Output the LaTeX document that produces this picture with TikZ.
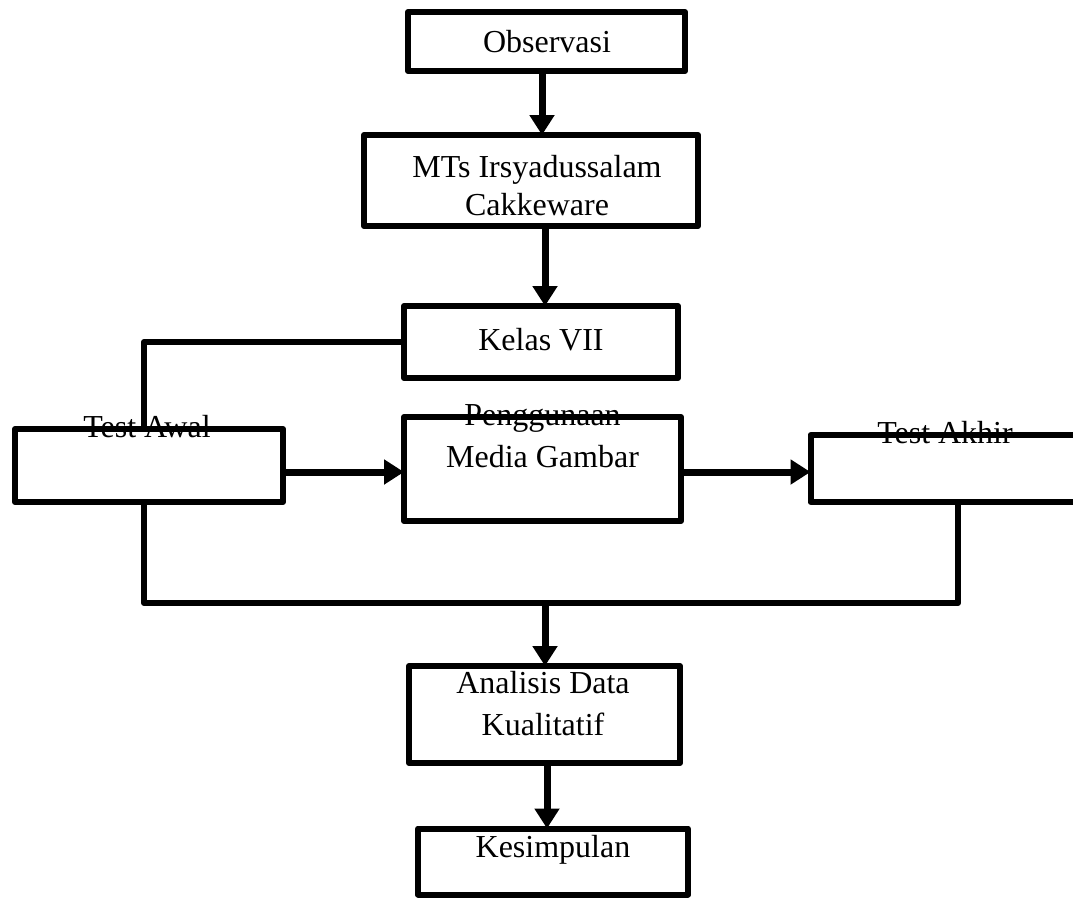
\documentclass[tikz,border=0pt]{standalone}
\usepackage{fontspec}
\setmainfont{Liberation Serif}
\usetikzlibrary{arrows.meta}
\begin{document}
\begin{tikzpicture}[x=1pt,y=-1pt,
  box/.style={draw, line width=6pt, line join=round, rectangle, inner sep=0pt, outer sep=0pt},
  lbl/.style={anchor=base, inner sep=0pt, font=\fontsize{32}{40}\selectfont},
  arr/.style={line width=7pt, -{Triangle[length=20pt,width=24pt]}},
  ln/.style={line width=6pt, line join=round}]
\useasboundingbox (0,0) rectangle (1073,902);
\clip (0,0) rectangle (1073,902);
% boxes
\node[box, minimum width=277pt, minimum height=59pt] (obs) at (546.5,41.5) {};
\node[box, minimum width=334pt, minimum height=91pt] (mts) at (531,180.5) {};
\node[box, minimum width=274pt, minimum height=72pt] (kelas) at (541,342) {};
\node[box, minimum width=268pt, minimum height=73pt] (awal) at (149,465.5) {};
\node[box, minimum width=277pt, minimum height=104pt] (peng) at (542.5,469) {};
\node[box, minimum width=287pt, minimum height=67pt] (akhir) at (954,468.5) {};
\node[box, minimum width=271pt, minimum height=97pt] (anal) at (544.5,714.5) {};
\node[box, minimum width=270pt, minimum height=66pt] (kes) at (553,861.5) {};
% labels
\node[lbl] (tobs) at (547,52) {Observasi};
\node[lbl] (tmts1) at (537,177) {MTs Irsyadussalam};
\node[lbl] (tmts2) at (537,215) {Cakkeware};
\node[lbl] (tkel) at (541,350) {Kelas VII};
\node[lbl] (tawal) at (147,437) {Test Awal};
\node[lbl] (tpeng1) at (542.5,425) {Penggunaan};
\node[lbl] (tpeng2) at (542.5,467) {Media Gambar};
\node[lbl] (takh) at (945,443) {Test Akhir};
\node[lbl] (tan1) at (543,693) {Analisis Data};
\node[lbl] (tan2) at (543,735) {Kualitatif};
\node[lbl] (tkes) at (553,857) {Kesimpulan};
% helper coordinates
\coordinate (v1) at (542,0);
\coordinate (v2) at (545,0);
\coordinate (v3) at (547,0);
\coordinate (h1) at (0,472);
\coordinate (aw) at (144,0);
\coordinate (ak) at (958,0);
\coordinate (m) at (545,603);
% connectors
\draw[arr] (obs.south -| v1) -- (mts.north -| v1);
\draw[arr] (mts.south -| v2) -- (kelas.north -| v2);
\draw[ln] (kelas.west) -- (aw |- kelas.west) -- (aw |- awal.north);
\draw[arr] (awal.east |- h1) -- (peng.west |- h1);
\draw[arr] (peng.east |- h1) -- (akhir.west |- h1);
\draw[ln] (ak |- akhir.south) -- (ak |- m) -- (aw |- m) -- (aw |- awal.south);
\draw[arr] (m) -- (m |- anal.north);
\draw[arr] (anal.south -| v3) -- (kes.north -| v3);
\end{tikzpicture}
\end{document}
